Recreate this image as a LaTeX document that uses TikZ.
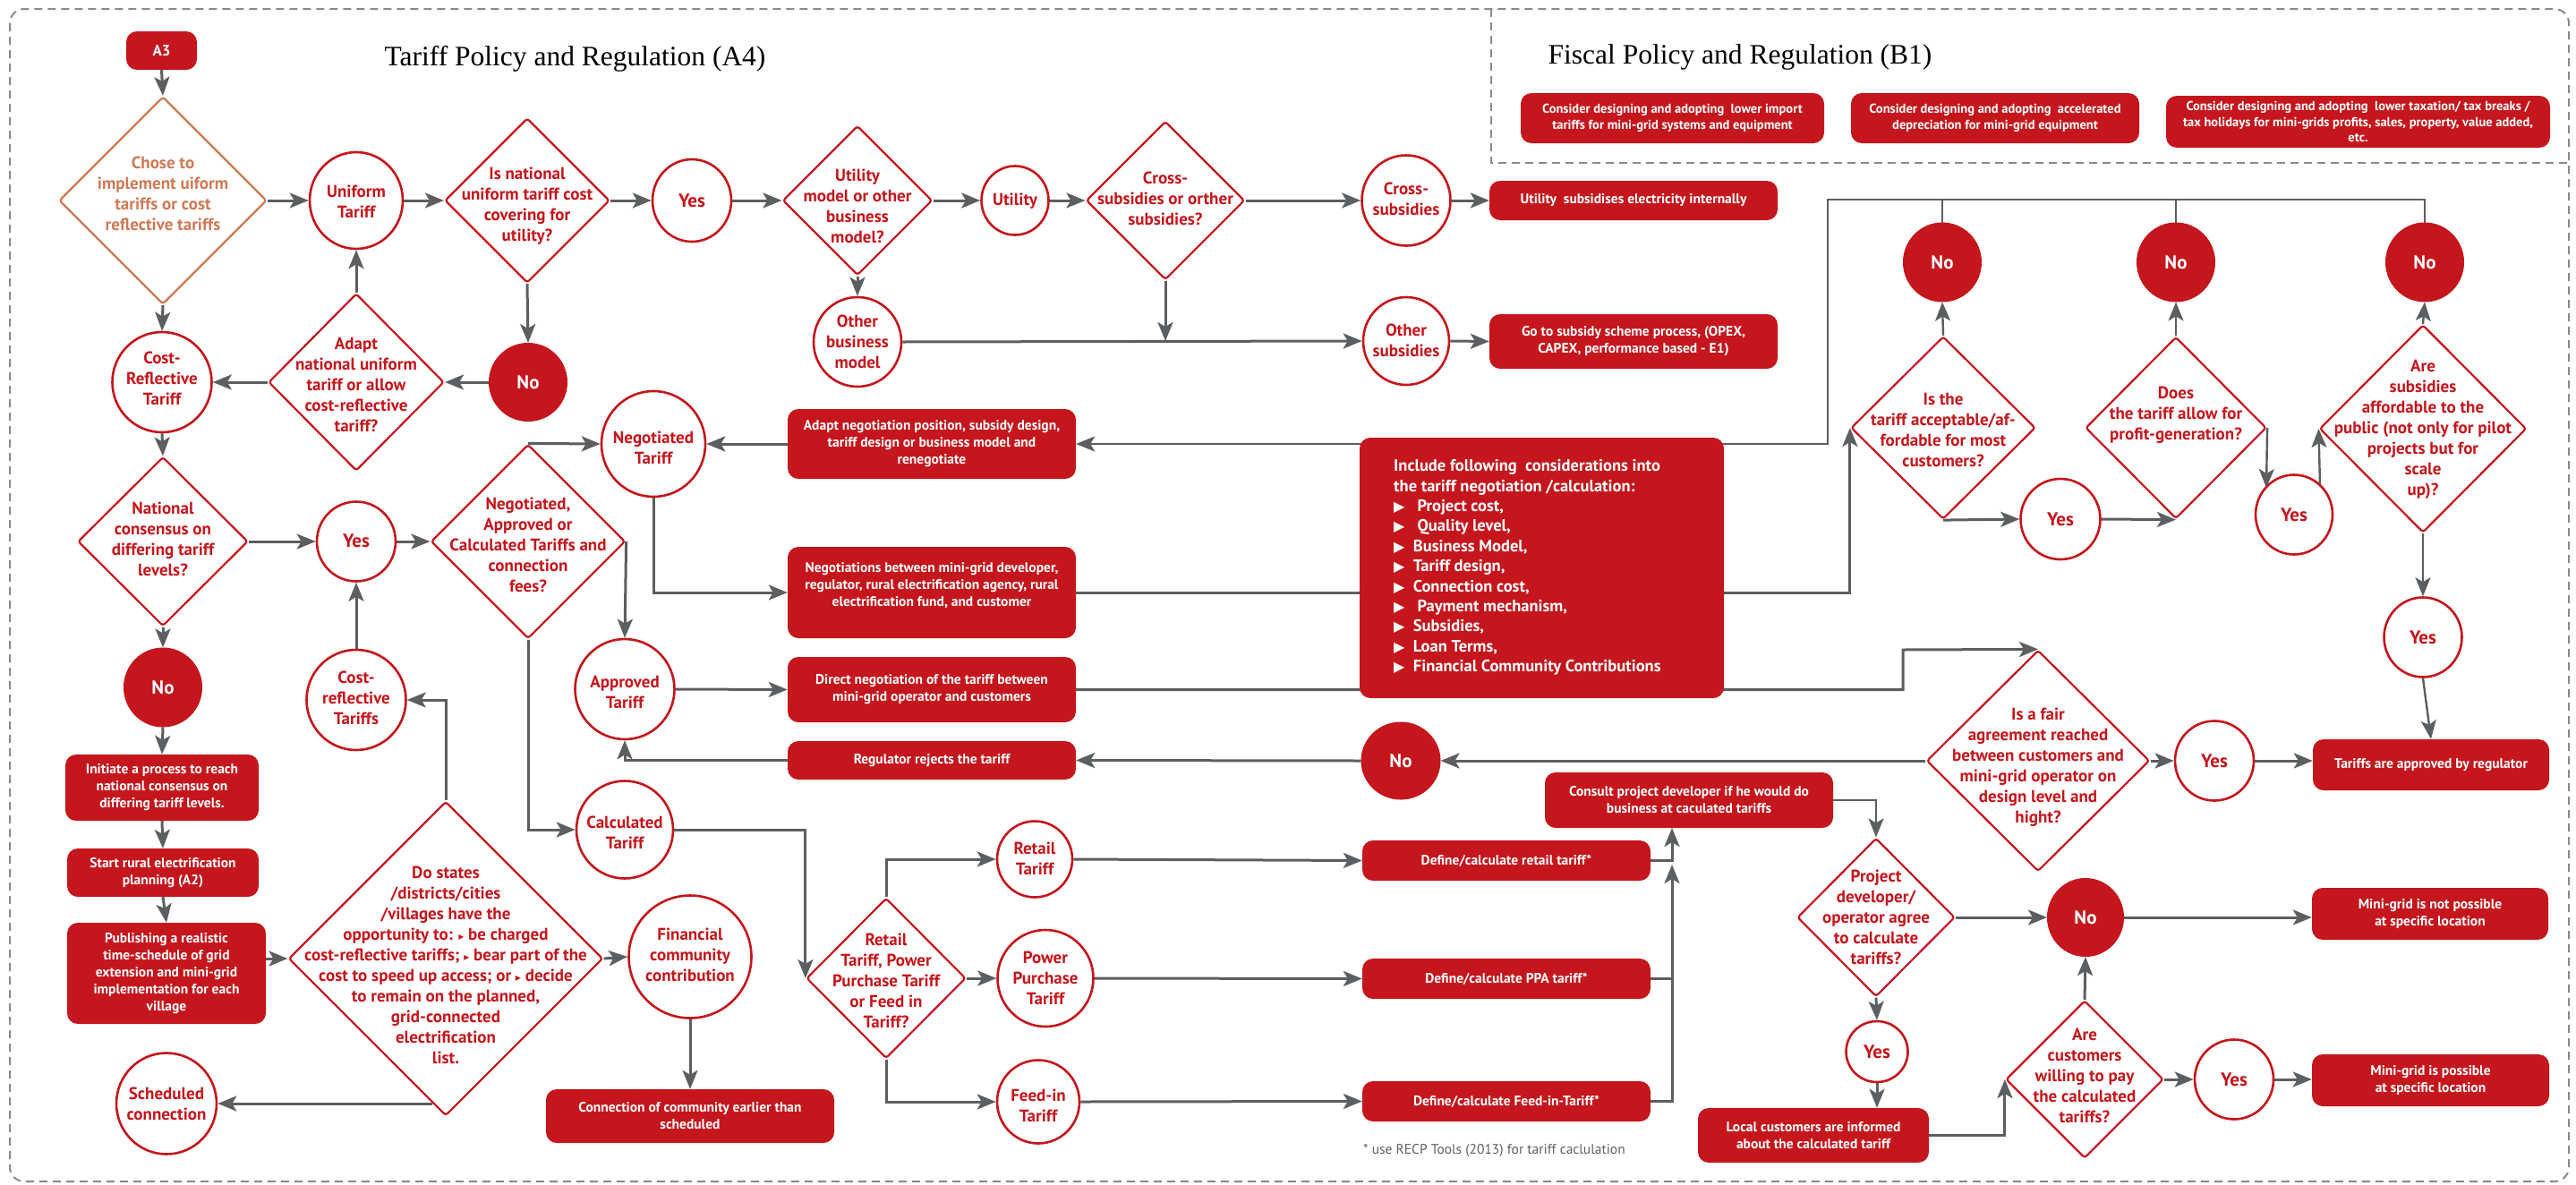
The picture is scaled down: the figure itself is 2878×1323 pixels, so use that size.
\documentclass[tikz,border=0pt]{standalone}
\usepackage{fontspec}
\setmainfont{PT Sans}
\newfontfamily\titlefont{Liberation Serif}
\newfontfamily\symfont{DejaVu Sans}
\usetikzlibrary{shapes.geometric,arrows.meta}
\pgfdeclarelayer{bg}
\pgfsetlayers{bg,main}
\definecolor{brandred}{HTML}{C4161C}
\definecolor{lineg}{HTML}{5B5F61}
\definecolor{ochre}{HTML}{CF7A56}
\definecolor{frameg}{HTML}{8A8A8A}
\newcommand\smalltri{{\symfont\fontsize{12}{12}\selectfont ▸}}
\newcommand\bigtri{{\symfont\fontsize{16}{16}\selectfont ▶}}
\tikzset{
  ell/.style 2 args={ellipse, draw=brandred, line width=2.6pt, fill=white,
    minimum width=#1pt, minimum height=#2pt, inner sep=0pt},
  elf/.style 2 args={ellipse, draw=brandred, fill=brandred, line width=1pt,
    minimum width=#1pt, minimum height=#2pt, inner sep=0pt, text=white,
    font=\bfseries\fontsize{21}{25}\selectfont},
  dia/.style 2 args={diamond, draw=brandred, line width=2.2pt, fill=white,
    minimum width=#1pt, minimum height=#2pt, inner sep=0pt, rounded corners=3pt},
  rbox/.style 2 args={rectangle, rounded corners=12pt, fill=brandred,
    minimum width=#1pt, minimum height=#2pt, text=white, align=center,
    inner sep=2pt, font=\bfseries\fontsize{15.5}{19}\selectfont},
  fiscbox/.style={font=\bfseries\fontsize{14.5}{17.7}\selectfont, inner sep=0pt},
  ct/.style={text=brandred, align=center, font=\bfseries\fontsize{19}{23}\selectfont, inner sep=0pt},
  yn/.style={ct, font=\bfseries\fontsize{21}{25}\selectfont},
  bigtxt/.style={text=white, align=left, font=\bfseries\fontsize{18.5}{22.4}\selectfont, inner sep=0pt},
  note/.style={text=lineg, font=\fontsize{15.5}{18}\selectfont, inner sep=0pt},
  ttlfont/.style={font=\titlefont\fontsize{31.5}{36}\selectfont},
  frame/.style={draw=frameg, line width=2pt, dash pattern=on 9pt off 6pt},
  arr/.style={draw=lineg, line width=3pt, -{Stealth[length=21pt,width=17pt,inset=5pt]}},
  arrthin/.style={draw=lineg, line width=2.4pt, -{Stealth[length=21pt,width=17pt,inset=5pt]}},
  ln/.style={draw=lineg, line width=3pt},
  lnthin/.style={draw=lineg, line width=2.4pt},
}
\begin{document}
\begin{tikzpicture}[x=1pt,y=-1pt]
\useasboundingbox (0,0) rectangle (2878,1323);

% frames
\draw[frame, rounded corners=16pt] (11,10) rectangle (2870,1320);
\draw[frame] (1666,10) -- (1666,182) -- (2870,182);

% titles
\node[ttlfont] (ttl) at (642.5,66) {Tariff Policy and Regulation (A4)};
\node[ttlfont] (fttl) at (1944,64) {Fiscal Policy and Regulation (B1)};

% fiscal measures
\node[rbox={339}{56}, fiscbox] (fb1) at (1868.5,132) {Consider designing and adopting\ \ lower import\\tariffs for mini-grid systems and equipment};
\node[rbox={322}{56}, fiscbox] (fb2) at (2229,132) {Consider designing and adopting\ \ accelerated\\depreciation for mini-grid equipment};
\node[rbox={429}{58}, fiscbox] (fb3) at (2634.5,136) {Consider designing and adopting\ \ lower taxation/ tax breaks /\\tax holidays for mini-grids profits, sales, property, value added,\\etc.};

% first row
\node[rbox={79}{43}, font=\bfseries\fontsize{17}{20}\selectfont] (a3) at (180.5,56.5) {A3};
\node[dia={232}{232}, draw=ochre] (chose) at (182,224) {};
\node[ct, text=ochre] (choset) at (182,216) {Chose to\\implement uiform\\tariffs or cost\\reflective tariffs};
\node[ell={104}{108}] (uni) at (398,224) {};
\node[ct] (unit) at (398,225) {Uniform\\Tariff};
\node[dia={184}{184}] (natq) at (589,224) {};
\node[ct] (natqt) at (589,230) {Is national\\uniform tariff cost\\covering for\\utility?};
\node[ell={88}{92}] (yes1) at (773,224) {};
\node[yn] (yes1t) at (773,224) {Yes};
\node[dia={167}{167}] (umod) at (958,224) {};
\node[ct] (umodt) at (958,230) {Utility\\model or other\\business\\model?};
\node[ell={75}{77}] (util) at (1134,224) {};
\node[ct] (utilt) at (1134,225) {Utility};
\node[dia={177}{177}] (csq) at (1302,224) {};
\node[ct] (csqt) at (1302,222) {Cross-\\subsidies or orther\\subsidies?};
\node[ell={99}{101}] (cross) at (1571,224) {};
\node[ct] (crosst) at (1571,222) {Cross-\\subsidies};
\node[rbox={322}{44}] (utilbox) at (1825,224) {Utility\ \ subsidises electricity internally};
\node[ell={98}{100}] (obm) at (958,382) {};
\node[ct] (obmt) at (958,382) {Other\\business\\model};
\node[ell={96}{98}] (osub) at (1571,381) {};
\node[ct] (osubt) at (1571,380) {Other\\subsidies};
\node[rbox={322}{61}] (subbox) at (1825,381.5) {Go to subsidy scheme process, (OPEX,\\CAPEX, performance based - E1)};

% second row
\node[elf={87}{87}] (no1) at (590,427) {No};
\node[dia={196}{198}] (adq) at (398,427) {};
\node[ct] (adqt) at (398,430) {Adapt\\national uniform\\tariff or allow\\cost-reflective\\tariff?};
\node[ell={111}{112}] (crt) at (181,427) {};
\node[ct] (crtt) at (181,423) {Cost-\\Reflective\\Tariff};

% consensus branch
\node[dia={190}{189}] (cons) at (182,605) {};
\node[ct] (const) at (182,602) {National\\consensus on\\differing tariff\\levels?};
\node[ell={88}{89}] (yes2) at (398,605) {};
\node[yn] (yes2t) at (398,604) {Yes};
\node[dia={217}{217}] (nac) at (590,605) {};
\node[ct] (nact) at (590,609) {Negotiated,\\Approved or\\Calculated Tariffs and\\connection\\fees?};
\node[elf={87}{88}] (no2) at (182,768) {No};
\node[rbox={216}{74}] (initbox) at (181,880) {Initiate a process to reach\\national consensus on\\differing tariff levels.};
\node[rbox={214}{54}] (startbox) at (182,975) {Start rural electrification\\planning (A2)};
\node[rbox={222}{113}] (pubbox) at (186,1087.5) {Publishing a realistic\\time-schedule of grid\\extension and mini-grid\\implementation for each\\village};
\node[ell={111}{112}] (crtf) at (398,782) {};
\node[ct] (crtft) at (398,780) {Cost-\\reflective\\Tariffs};
\node[dia={351}{351}] (dos) at (498,1071) {};
\node[ct] (dost) at (498,1078) {Do states\\/districts/cities\\/villages have the\\opportunity to: \smalltri\ be charged\\cost-reflective tariffs; \smalltri\ bear part of the\\cost to speed up access; or \smalltri\ decide\\to remain on the planned,\\grid-connected\\electrification\\list.};
\node[ell={137}{137}] (fin) at (771,1069) {};
\node[ct] (fint) at (771,1067) {Financial\\community\\contribution};
\node[rbox={322}{60}] (connbox) at (771,1247) {Connection of community earlier than\\scheduled};
\node[ell={112}{113}] (sched) at (186,1233) {};
\node[ct] (schedt) at (186,1233) {Scheduled\\connection};
\coordinate (dosw) at (483,1233);

% tariff kinds
\node[ell={116}{118}] (negt) at (730,496) {};
\node[ct] (negtt) at (730,500) {Negotiated\\Tariff};
\node[ell={111}{112}] (appr) at (698,770) {};
\node[ct] (apprt) at (698,773) {Approved\\Tariff};
\node[ell={108}{109}] (calc) at (698,927) {};
\node[ct] (calct) at (698,930) {Calculated\\Tariff};
\node[rbox={322}{78}] (adaptbox) at (1041,496) {Adapt negotiation position, subsidy design,\\tariff design or business model and\\renegotiate};
\node[rbox={322}{102}] (negbox) at (1041,662) {Negotiations between mini-grid developer,\\regulator, rural electrification agency, rural\\electrification fund, and customer\\\mbox{}};
\node[rbox={322}{73}] (dirbox) at (1041,770.5) {Direct negotiation of the tariff between\\mini-grid operator and customers};
\node[rbox={322}{43}] (rejbox) at (1041,849.5) {Regulator rejects the tariff};
\node[elf={88}{86}] (no3) at (1565,850) {No};

% considerations
\node[rbox={407}{291}] (bigbox) at (1722.5,634.5) {};
\node[bigtxt, anchor=west] (bigt) at (1557,634) {Include following\ \ considerations into\\the tariff negotiation /calculation:\\
\bigtri\ \ \ Project cost,\\
\bigtri\ \ \ Quality level,\\
\bigtri\ \ Business Model,\\
\bigtri\ \ Tariff design,\\
\bigtri\ \ Connection cost,\\
\bigtri\ \ \ Payment mechanism,\\
\bigtri\ \ Subsidies,\\
\bigtri\ \ Loan Terms,\\
\bigtri\ \ Financial Community Contributions};

% checks on the tariff
\node[elf={87}{88}] (no4) at (2170,293) {No};
\node[elf={87}{88}] (no5) at (2431,293) {No};
\node[elf={87}{88}] (no6) at (2709,293) {No};
\node[dia={206}{204}] (acc) at (2171,478) {};
\node[ct] (acct) at (2171,480) {Is the\\tariff acceptable/af-\\fordable for most\\customers?};
\node[ell={89}{90}] (yes3) at (2302,580) {};
\node[yn] (yes3t) at (2302,580) {Yes};
\node[dia={202}{203}] (prof) at (2431,478) {};
\node[ct] (proft) at (2431,464) {Does\\the tariff allow for\\profit-generation?};
\node[ell={86}{89}] (yes4) at (2563,575) {};
\node[yn] (yes4t) at (2563,575) {Yes};
\coordinate (y4in) at (2532,545);
\coordinate (y4out) at (2592,542);
\node[dia={231}{232}] (subs) at (2707,479) {};
\node[ct] (subst) at (2707,480) {Are\\subsidies\\affordable to the\\public (not only for pilot\\projects but for\\scale\\up)?};
\node[ell={87}{89}] (yes5) at (2707,712) {};
\node[yn] (yes5t) at (2707,712) {Yes};
\node[rbox={264}{57}] (apprbox) at (2716,854.5) {Tariffs are approved by regulator};
\node[dia={249}{247}] (fair) at (2277,850) {};
\node[ct] (fairt) at (2277,857) {Is a fair\\agreement reached\\between customers and\\mini-grid operator on\\design level and\\hight?};
\node[ell={88}{89}] (yes6) at (2474,850) {};
\node[yn] (yes6t) at (2474,850) {Yes};
\coordinate (fj) at (2126,726);
\coordinate (topr) at (2042,223);

% calculated tariff outcome
\node[rbox={322}{62}] (consult) at (1887,894) {Consult project developer if he would do\\business at caculated tariffs};
\node[dia={176}{177}] (proj) at (2096,1025) {};
\node[ct] (projt) at (2096,1025) {Project\\developer/\\operator agree\\to calculate\\tariffs?};
\node[elf={85}{87}] (no7) at (2330,1025) {No};
\node[rbox={264}{58}] (notbox) at (2715,1021) {Mini-grid is not possible\\at specific location};
\node[ell={69}{68}] (yes7) at (2097,1175) {};
\node[yn] (yes7t) at (2097,1175) {Yes};
\node[rbox={258}{61}] (localbox) at (2026,1268.5) {Local customers are informed\\about the calculated tariff};
\node[dia={176}{176}] (will) at (2329,1206) {};
\node[ct] (willt) at (2329,1202) {Are\\customers\\willing to pay\\the calculated\\tariffs?};
\node[ell={88}{89}] (yes8) at (2496,1206) {};
\node[yn] (yes8t) at (2496,1206) {Yes};
\node[rbox={265}{58}] (possbox) at (2715.5,1207) {Mini-grid is possible\\at specific location};

\node[dia={178}{179}] (rdia) at (990,1093) {};
\node[ct] (rdiat) at (990,1096) {Retail\\Tariff, Power\\Purchase Tariff\\or Feed in\\Tariff?};
\node[ell={84}{85}] (retail) at (1156,960) {};
\node[ct] (retailt) at (1156,959) {Retail\\Tariff};
\node[ell={107}{108}] (ppa) at (1168,1093) {};
\node[ct] (ppat) at (1168,1093) {Power\\Purchase\\Tariff};
\node[ell={92}{93}] (feed) at (1160,1231) {};
\node[ct] (feedt) at (1160,1235) {Feed-in\\Tariff};
\node[rbox={322}{45}] (retbox) at (1683,961.5) {Define/calculate retail tariff*};
\node[rbox={322}{45}] (ppabox) at (1683,1093.5) {Define/calculate PPA tariff*};
\node[rbox={322}{45}] (feedbox) at (1683,1230.5) {Define/calculate Feed-in-Tariff*};
\coordinate (cb) at (1868,925);
\coordinate (cj) at (1868,966);
\node[note, anchor=west] (fn) at (1523,1286) {* use RECP Tools (2013) for tariff caclulation};

% connectors
\begin{pgfonlayer}{bg}
\draw[arr] (a3.south) -- (chose.north);
\draw[arr] (chose.east) -- (uni.west);
\draw[arr] (uni.east) -- (natq.west);
\draw[arr] (natq.east) -- (yes1.west);
\draw[arr] (yes1.east) -- (umod.west);
\draw[arr] (umod.east) -- (util.west);
\draw[arr] (util.east) -- (csq.west);
\draw[arr] (csq.east) -- (cross.west);
\draw[arr] (cross.east) -- (utilbox.west);
\draw[arr] (umod.south) -- (obm.north);
\draw[arr] (obm.east) -- (osub.west);
\draw[arr] (csq.south) -- (csq.south |- osub.west);
\draw[arr] (osub.east) -- (subbox.west);
\draw[arr] (natq.south) -- (no1.north);
\draw[arr] (no1.west) -- (adq.east);
\draw[arr] (adq.north) -- (uni.south);
\draw[arr] (adq.west) -- (crt.east);
\draw[arr] (chose.south) -- (crt.north);
\draw[arr] (crt.south) -- (cons.north);
\draw[arr] (cons.east) -- (yes2.west);
\draw[arr] (yes2.east) -- (nac.west);
\draw[arr] (cons.south) -- (no2.north);
\draw[arr] (no2.south) -- (initbox.north);
\draw[arr] (initbox.south) -- (startbox.north);
\draw[arr] (startbox.south) -- (pubbox.north);
\draw[arr] (pubbox.east |- dos.west) -- (dos.west);
\draw[arr] (dos.north) |- (crtf.east);
\draw[arr] (crtf.north) -- (yes2.south);
\draw[arr] (dos.east) -- (fin.west);
\draw[arr] (fin.south) -- (connbox.north);
\draw[arr] (dosw) -- (sched.east);
\draw[arr] (nac.north) -- (negt.west);
\draw[arr] (adaptbox.west) -- (negt.east);
\draw[arr] (negt.south) |- (negbox.west);
\draw[arr] (nac.east) -- (appr.north);
\draw[arr] (appr.east) -- (dirbox.west);
\draw[arr] (rejbox.west) -| (appr.south);
\draw[arr] (no3.west) -- (rejbox.east);
\draw[arr] (fair.west) -- (no3.east);
\draw[arrthin] (no6.north) -- (no6.north |- topr) -- (topr) -- (topr |- adaptbox.east) -- (adaptbox.east);
\draw[lnthin] (no4.north) -- (no4.north |- topr);
\draw[lnthin] (no5.north) -- (no5.north |- topr);
\draw[arr] (negbox.east) -| (acc.west);
\draw[arr] (dirbox.east) -| (fj) -- (fair.north);
\draw[arrthin] (acc.north) -- (no4.south);
\draw[arr] (acc.south) -- (yes3.west);
\draw[arr] (yes3.east) -- (prof.south);
\draw[arrthin] (prof.north) -- (no5.south);
\draw[arrthin] (prof.east) -- (y4in);
\draw[arrthin] (y4out) -- (subs.west);
\draw[arrthin] (subs.north) -- (no6.south);
\draw[arrthin] (subs.south) -- (yes5.north);
\draw[arrthin] (yes5.south) -- (apprbox.north);
\draw[arr] (fair.east) -- (yes6.west);
\draw[arr] (yes6.east) -- (yes6.east -| apprbox.west);
\draw[arrthin] (consult.east) -| (proj.north);
\draw[arr] (proj.east) -- (no7.west);
\draw[arr] (no7.east) -- (no7.east -| notbox.west);
\draw[arr] (proj.south) -- (yes7.north);
\draw[arr] (yes7.south) -- (yes7.south |- localbox.north);
\draw[arr] (localbox.east) -| (will.west);
\draw[arr] (will.north) -- (no7.south);
\draw[arr] (will.east) -- (yes8.west);
\draw[arr] (yes8.east) -- (yes8.east -| possbox.west);
\draw[arr] (nac.south) |- (calc.west);
\draw[arr] (calc.east) -| (rdia.west);
\draw[arr] (rdia.north) |- (retail.west);
\draw[arr] (rdia.east) -- (ppa.west);
\draw[arr] (rdia.south) |- (feed.west);
\draw[arr] (retail.east) -- (retbox.west);
\draw[arr] (ppa.east) -- (ppabox.west);
\draw[arr] (feed.east) -- (feedbox.west);
\draw[arr] (retbox.east) -| (cb);
\draw[ln] (ppabox.east) -- (ppabox.east -| cb);
\draw[arr] (feedbox.east) -| (cj);
\end{pgfonlayer}
\end{tikzpicture}
\end{document}
